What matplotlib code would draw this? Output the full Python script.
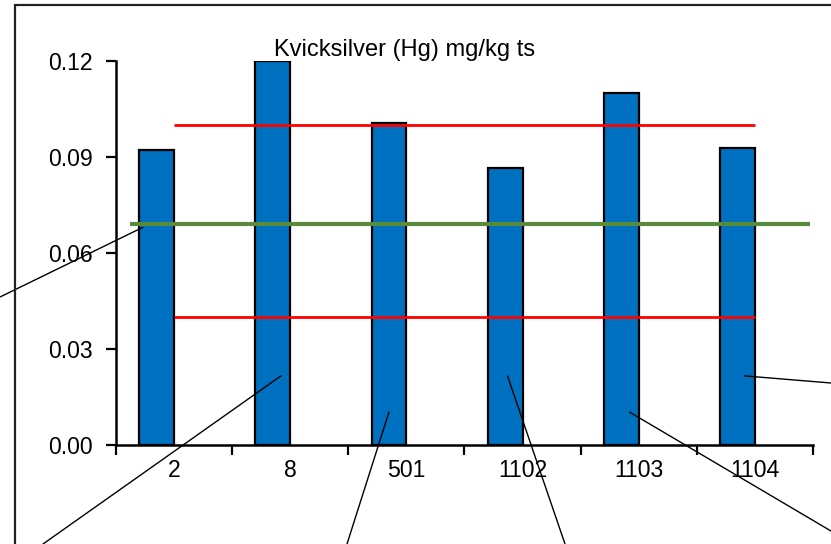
import matplotlib
matplotlib.use("Agg")
import matplotlib.pyplot as plt
from matplotlib.patches import Rectangle

plt.rcParams['font.family'] = ['Liberation Sans', 'DejaVu Sans']

# Provtagningspunkter och kvicksilverhalter
stations = ['2', '8', '501', '1102', '1103', '1104']
hg_values = [0.0922, 0.1200, 0.1007, 0.0866, 0.1100, 0.0927]
upper_ref = [0.10] * len(stations)
lower_ref = [0.04] * len(stations)
mean_level = 0.069
y_ticks = [0.00, 0.03, 0.06, 0.09, 0.12]
title = 'Kvicksilver (Hg) mg/kg ts'

# Leader lines: anchor inside each bar (category offset, value) -> end in figure pixels
leader_anchor_x = [-0.27, 0.92, 1.85, 2.87, 3.92, 4.91]
leader_anchor_y = [0.068, 0.0216, 0.0103, 0.0216, 0.0103, 0.0216]
leader_end_px = [(0, 247), (43, 0), (347, 0), (565, 0), (853, 0), (831, 161)]

W, H, DPI = 831, 544, 100
fig = plt.figure(figsize=(W / DPI, H / DPI), dpi=DPI)
fig.patch.set_facecolor('white')

ax = fig.add_axes([116 / W, 99 / H, (813 - 116) / W, (445 - 61) / H])
x = list(range(len(stations)))

ax.bar([i - 0.30 for i in x], hg_values, width=0.30, align='edge',
       color='#0070C0', edgecolor='black', linewidth=1.6, zorder=2)
ax.plot(x, upper_ref, color='#FF0000', lw=2.0, zorder=3, solid_capstyle='butt')
ax.plot(x, lower_ref, color='#FF0000', lw=2.0, zorder=3, solid_capstyle='butt')
ax.plot([-0.38, 5.47], [mean_level, mean_level], color='#5A8A3C', lw=3.0,
        zorder=4, clip_on=False, solid_capstyle='butt')

ax.set_xlim(-0.5, 5.5)
ax.set_ylim(0, 0.12)
ax.set_yticks(y_ticks)
ax.set_yticklabels([f'{v:.2f}' for v in y_ticks])
ax.set_xticks([i + 0.5 for i in range(-1, len(stations))])
ax.set_xticks(x, minor=True)
ax.set_xticklabels([])
ax.set_xticklabels(stations, minor=True)
ax.tick_params(axis='x', which='major', length=7, width=1.6, direction='out')
ax.tick_params(axis='x', which='minor', length=0, pad=10, labelsize=16.6)
ax.tick_params(axis='y', length=7, width=1.6, direction='out', pad=9.5,
               labelsize=16.6)
for s in ['top', 'right']:
    ax.spines[s].set_visible(False)
for s in ['left', 'bottom']:
    ax.spines[s].set_linewidth(1.8)
ax.set_facecolor('none')

for ax_x, ax_y, (ex, ey) in zip(leader_anchor_x, leader_anchor_y, leader_end_px):
    ax.annotate('', xy=(ax_x, ax_y), xycoords='data',
                xytext=(ex, ey), textcoords='figure pixels',
                arrowprops=dict(arrowstyle='-', lw=1.0, color='black',
                                shrinkA=0, shrinkB=0),
                annotation_clip=False, zorder=5)

fig.text(404.5 / W, (H - 56) / H, title, ha='center', va='baseline',
         fontsize=17.0)

fig.patches.append(Rectangle((15 / W, -0.2), 1.2, (H - 5) / H + 0.2,
                             transform=fig.transFigure, fill=False,
                             edgecolor='#222222', lw=1.6, zorder=0))

fig.savefig('out.png', dpi=DPI)
